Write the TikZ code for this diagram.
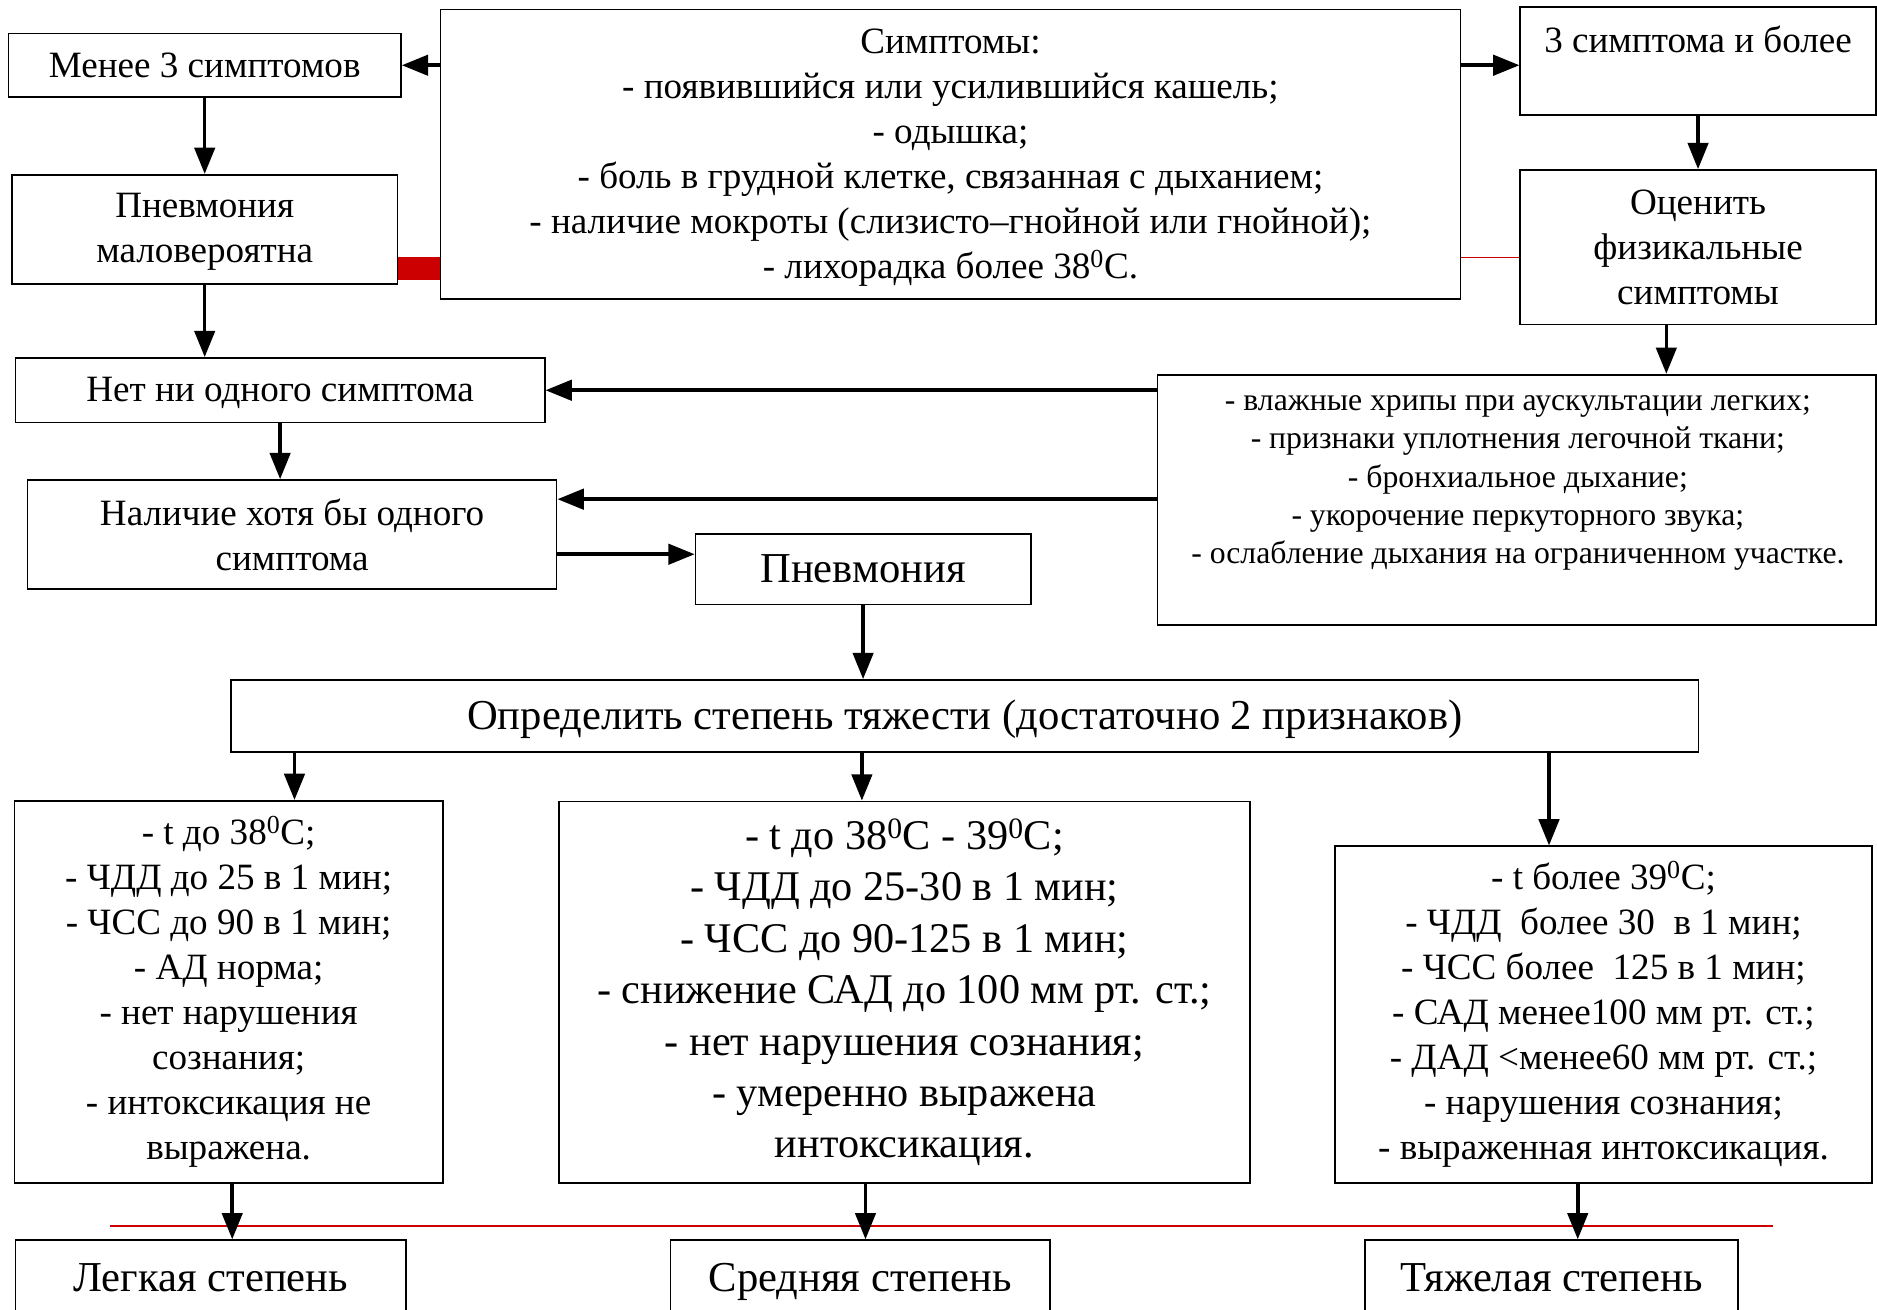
\documentclass[tikz,border=0pt]{standalone}
\usepackage{fontspec}
\setmainfont{Liberation Serif}
\usetikzlibrary{arrows.meta}
\definecolor{barred}{RGB}{204,0,0}
\begin{document}
\begin{tikzpicture}[x=1pt,y=-1pt,
  box/.style={draw, line width=1.4pt, rectangle, inner sep=0pt, align=center},
  txt/.style={inner sep=0pt, align=center},
  arr/.style={line width=3pt, -{Triangle[length=22pt,width=17pt]}},
  fa/.style={font=\fontsize{31}{37.6}\selectfont},
  fb/.style={font=\fontsize{26.5}{32}\selectfont},
  fc/.style={font=\fontsize{35.3}{43}\selectfont},
  fd/.style={font=\fontsize{35.6}{40}\selectfont}]
\useasboundingbox (0,0) rectangle (1568,1094);
\fill[white] (0,0) rectangle (1568,1094);
\clip (0,0) rectangle (1568,1094);

% boxes
\node[box,fa,minimum width=328pt,minimum height=53pt] (menee) at (171,54.5) {Менее 3 симптомов};
\node[box,minimum width=852pt,minimum height=242pt] (sym) at (794,129) {};
\node[txt,fa] (symt) at (794,131.5)
 {Симптомы:\\- появившийся или усилившийся кашель;\\- одышка;\\- боль в грудной клетке, связанная с дыханием;\\- наличие мокроты (слизисто–гнойной или гнойной);\\- лихорадка более 38\textsuperscript{0}С.};
\node[box,minimum width=297pt,minimum height=90pt] (s3) at (1418.5,51) {};
\node[txt,fa] (s3t) at (1418.5,33) {3 симптома и более};
\node[box,fa,minimum width=297pt,minimum height=129pt] (ocen) at (1418.5,206.5) {Оценить\\физикальные\\симптомы};
\node[box,minimum width=322pt,minimum height=91pt] (pm) at (171,191.5) {};
\node[txt,fa] (pmt) at (171,193.5) {Пневмония\\маловероятна};
\node[box,minimum width=442pt,minimum height=54pt] (net) at (234,326) {};
\node[txt,fa] (nett) at (234,328.5) {Нет ни одного симптома};
\node[box,minimum width=600pt,minimum height=209pt] (phys) at (1267,417.5) {};
\node[txt,fb] (physt) at (1268,403.5)
 {- влажные хрипы при аускультации легких;\\- признаки уплотнения легочной ткани;\\- бронхиальное дыхание;\\- укорочение перкуторного звука;\\- ослабление дыхания на ограниченном участке.};
\node[box,fa,minimum width=442pt,minimum height=91pt] (nal) at (244,446.5) {Наличие хотя бы одного\\симптома};
\node[box,minimum width=280pt,minimum height=59pt] (pn) at (721,475.5) {};
\node[txt,fd] (pnt) at (721,479) {\strut Пневмония};
\node[box,minimum width=1226pt,minimum height=60pt] (opr) at (806,598) {};
\node[txt,fd] (oprt) at (806,601.5) {\strut Определить степень тяжести (достаточно 2 признаков)};
\node[box,fa,minimum width=358pt,minimum height=319pt] (left) at (191,828.5)
 {- t до 38\textsuperscript{0}С;\\- ЧДД до 25 в 1 мин;\\- ЧСС до 90 в 1 мин;\\- АД норма;\\- нет нарушения\\сознания;\\- интоксикация не\\выражена.};
\node[box,fc,minimum width=577pt,minimum height=319pt] (mid) at (755.5,829)
 {- t до 38\textsuperscript{0}С - 39\textsuperscript{0}С;\\- ЧДД до 25-30 в 1 мин;\\- ЧСС до 90-125 в 1 мин;\\- снижение САД до 100 мм рт. ст.;\\- нет нарушения сознания;\\- умеренно выражена\\интоксикация.};
\node[box,fa,minimum width=449pt,minimum height=281pt] (right) at (1339.5,847.5)
 {- t более 39\textsuperscript{0}С;\\- ЧДД\ \ более 30\ \ в 1 мин;\\- ЧСС более\ \ 125 в 1 мин;\\- САД менее100 мм рт. ст.;\\- ДАД <менее60 мм рт. ст.;\\- нарушения сознания;\\- выраженная интоксикация.};
\node[box,minimum width=326pt,minimum height=62pt] (lg) at (176,1067) {};
\node[txt,fd] (lgt) at (176,1070.5) {\strut Легкая степень};
\node[box,minimum width=317pt,minimum height=62pt] (sr) at (718.5,1067) {};
\node[txt,fd] (srt) at (718.5,1070.5) {\strut Средняя степень};
\node[box,minimum width=312pt,minimum height=62pt] (tj) at (1296,1067) {};
\node[txt,fd] (tjt) at (1296,1070.5) {\strut Тяжелая степень};

% helper coordinates
\coordinate (y215) at (0,215);
\coordinate (y234) at (0,234);
\coordinate (y417) at (0,417);
\coordinate (y463) at (0,463);
\coordinate (x1392) at (1392,0);
\coordinate (x246) at (246,0);
\coordinate (x720) at (720,0);
\coordinate (x1294) at (1294,0);
\coordinate (x194) at (194,0);
\coordinate (x723) at (723,0);
\coordinate (x1318) at (1318,0);
\coordinate (rl) at (92,1024);
\coordinate (rr) at (1481,1024);

% red marks
\fill[barred] (pm.east |- y215) rectangle (sym.west |- y234);
\draw[barred,line width=1.2pt] (sym.east |- y215) -- (ocen.west |- y215);
\draw[barred,line width=1.5pt] (rl) -- (rr);

% arrows
\draw[arr] (sym.west |- menee.east) -- (menee.east);
\draw[arr] (sym.east |- menee.east) -- (s3.west |- menee.east);
\draw[arr] (menee.south) -- (pm.north);
\draw[arr] (s3.south) -- (ocen.north);
\draw[arr] (ocen.south -| x1392) -- (phys.north -| x1392);
\draw[arr] (pm.south) -- (pm.south |- net.north);
\draw[arr] (phys.west |- net.east) -- (net.east);
\draw[arr] (phys.west |- y417) -- (nal.east |- y417);
\draw[arr] (net.south) -- (net.south |- nal.north);
\draw[arr] (nal.east |- y463) -- (pn.west |- y463);
\draw[arr] (pn.south) -- (pn.south |- opr.north);
\draw[arr] (opr.south -| x246) -- (left.north -| x246);
\draw[arr] (opr.south -| x720) -- (mid.north -| x720);
\draw[arr] (opr.south -| x1294) -- (right.north -| x1294);
\draw[arr] (left.south -| x194) -- (lg.north -| x194);
\draw[arr] (mid.south -| x723) -- (sr.north -| x723);
\draw[arr] (right.south -| x1318) -- (tj.north -| x1318);
\end{tikzpicture}
\end{document}
